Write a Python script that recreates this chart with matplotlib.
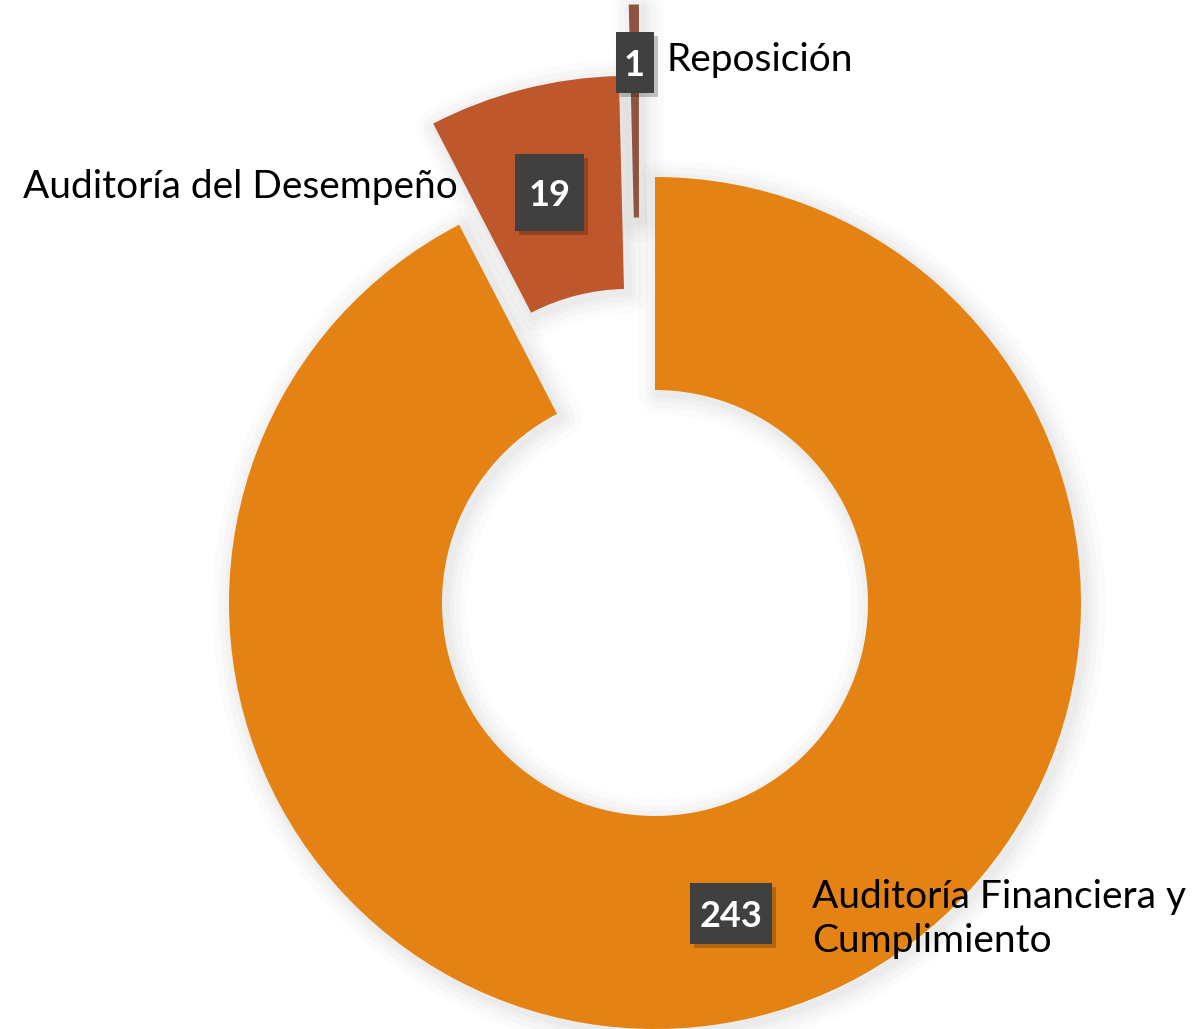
import matplotlib.pyplot as plt
import numpy as np
from matplotlib.patches import Rectangle

categories = ["Auditoría Financiera y\nCumplimiento", "Auditoría del Desempeño", "Reposición"]
values = [243, 19, 1]
colors = ["#E48314", "#BE582C", "#8E5440"]
explode = [0, 0.245, 0.405]

plt.rcParams['font.family'] = ['Lato', 'DejaVu Sans']

PX = 1 / 426  # one pixel in data units (radius = 426 px)

fig = plt.figure(figsize=(11.96, 10.29), dpi=100)
ax = fig.add_axes([0, 0, 1, 1])

shadow_sets = []
for lw, a in [(30, 0.015), (20, 0.018), (12, 0.02), (6, 0.022)]:
    sh, _ = ax.pie(values, radius=1, startangle=90, counterclock=False, explode=explode,
                   wedgeprops=dict(width=0.5, fc='none', ec='black', lw=lw, alpha=a,
                                   joinstyle='round'))
    shadow_sets.append(sh)

wedges, _ = ax.pie(values, radius=1, startangle=90, counterclock=False, explode=explode,
                   colors=colors, wedgeprops=dict(width=0.5, lw=0))
for w in wedges:
    w.set_zorder(2)
# the thin slice was dragged a little to the left in the original
wedges[2].set_center((wedges[2].center[0] - 14 * PX, wedges[2].center[1]))
wedges[2].set_width(0.5)

for sh in shadow_sets:
    for w, main in zip(sh, wedges):
        w.set_zorder(1)
        w.set_center((main.center[0] + 4 * PX, main.center[1] - 4 * PX))

ax.set_xlim(-655 * PX, (1196 - 655) * PX)
ax.set_ylim(-1.0, (1029 - 426) * PX)
ax.set_aspect('equal')
ax.axis('off')

# value labels in dark boxes
label_r = [0.75, 0.75, 0.865]
box_px = [(82, 61), (69, 77), (38, 61)]
for w, v, r, (bw, bh) in zip(wedges, values, label_r, box_px):
    mid = np.deg2rad((w.theta1 + w.theta2) / 2)
    cx, cy = w.center
    x, y = cx + r * np.cos(mid), cy + r * np.sin(mid)
    bw, bh = bw * PX, bh * PX
    ax.add_patch(Rectangle((x - bw / 2 + 4 * PX, y - bh / 2 - 4 * PX), bw, bh,
                           fc='black', ec='none', alpha=0.22, zorder=3))
    ax.add_patch(Rectangle((x - bw / 2, y - bh / 2), bw, bh, fc='#404040', ec='none', zorder=4))
    ax.text(x, y, str(v), ha='center', va='center_baseline', fontsize=26, fontweight='bold',
            color='white', zorder=5)

# category labels
def px(x, y):
    return (x - 655) * PX, (1029 - y - 426) * PX

ax.text(*px(667, 60), categories[2], ha='left', va='center', fontsize=28, color='black', zorder=6)
ax.text(*px(458, 187), categories[1], ha='right', va='center', fontsize=28, color='black', zorder=6)
ax.text(*px(812, 919), categories[0], ha='left', va='center', fontsize=28, color='black',
        linespacing=1.3, zorder=6)

fig.savefig("out.png", dpi=100, facecolor='white')
